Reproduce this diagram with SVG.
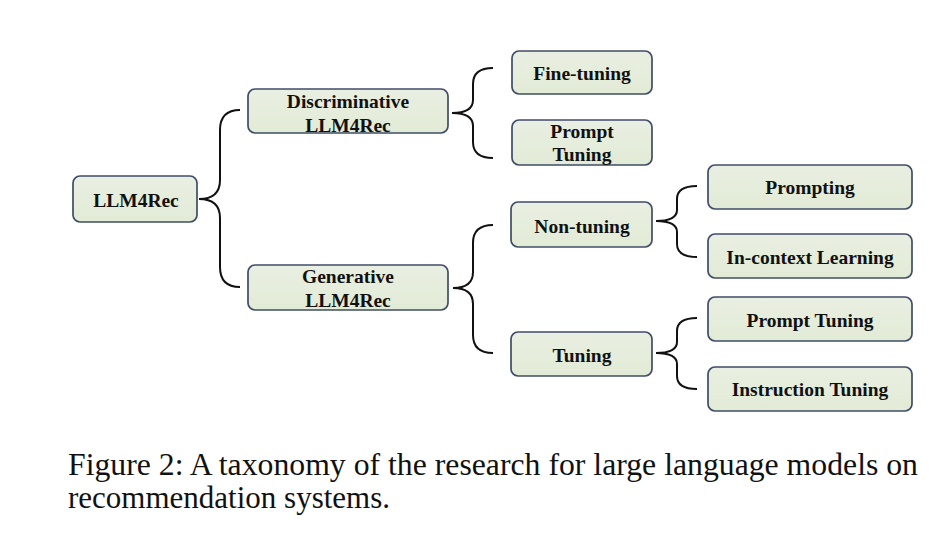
<svg xmlns="http://www.w3.org/2000/svg" width="934" height="543" viewBox="0 0 934 543">
<defs>
<linearGradient id="g" x1="0" y1="0" x2="0" y2="1">
<stop offset="0" stop-color="#e9efe2"/>
<stop offset="1" stop-color="#e2ebd6"/>
</linearGradient>
</defs>
<style>
.box{fill:url(#g);stroke:#404c68;stroke-width:1.7}
.t{font-family:"Liberation Serif","Times New Roman",serif;font-weight:bold;font-size:19.5px;fill:#111;text-anchor:middle}
.br{fill:none;stroke:#111;stroke-width:2}
.cap{font-family:"Liberation Serif","Times New Roman",serif;font-size:31px;fill:#111}
</style>
<rect width="934" height="543" fill="#fff"/>
<g id="connectors">
<path class="br" d="M240,110 Q220,110 220,130 L220,180 Q220,199 199,199 Q220,199 220,218 L220,267 Q220,287 240,287"/>
<path class="br" d="M493,68 Q473,68 473,84 L473,100 Q473,113 452,113 Q473,113 473,126 L473,142 Q473,158 493,158"/>
<path class="br" d="M493,225 Q473,225 473,243 L473,272 Q473,288 453,288 Q473,288 473,304 L473,335 Q473,353 493,353"/>
<path class="br" d="M697,186 Q677,186 677,199 L677,210 Q677,221 656,221 Q677,221 677,232 L677,244 Q677,257 697,257"/>
<path class="br" d="M697,318 Q677,318 677,331 L677,342 Q677,353 656,353 Q677,353 677,364 L677,376 Q677,389 697,389"/>
</g>
<g id="llm4rec"><rect class="box" x="73" y="176" width="124" height="46" rx="7"/><text class="t" x="136" y="207">LLM4Rec</text></g>
<g id="discriminative"><rect class="box" x="248" y="89" width="200" height="44" rx="7"/><text class="t" x="348" y="108">Discriminative</text><text class="t" x="348" y="132">LLM4Rec</text></g>
<g id="generative"><rect class="box" x="248" y="265" width="200" height="45" rx="7"/><text class="t" x="348" y="283">Generative</text><text class="t" x="348" y="307">LLM4Rec</text></g>
<g id="finetuning"><rect class="box" x="512" y="51" width="140" height="43" rx="7"/><text class="t" x="582" y="80">Fine-tuning</text></g>
<g id="prompttuning1"><rect class="box" x="512" y="120" width="140" height="45" rx="7"/><text class="t" x="582" y="138">Prompt</text><text class="t" x="582" y="161">Tuning</text></g>
<g id="nontuning"><rect class="box" x="511" y="202" width="141" height="45" rx="7"/><text class="t" x="582" y="233">Non-tuning</text></g>
<g id="tuning"><rect class="box" x="511" y="332" width="141" height="44" rx="7"/><text class="t" x="582" y="362">Tuning</text></g>
<g id="prompting"><rect class="box" x="708" y="165" width="204" height="44" rx="7"/><text class="t" x="810" y="194">Prompting</text></g>
<g id="incontext"><rect class="box" x="708" y="234" width="204" height="44" rx="7"/><text class="t" x="810" y="264">In-context Learning</text></g>
<g id="prompttuning2"><rect class="box" x="708" y="297" width="204" height="44" rx="7"/><text class="t" x="810" y="327">Prompt Tuning</text></g>
<g id="instructiontuning"><rect class="box" x="708" y="367" width="204" height="44" rx="7"/><text class="t" x="810" y="396">Instruction Tuning</text></g>
<text class="cap" x="68" y="475" textLength="850" lengthAdjust="spacingAndGlyphs">Figure 2: A taxonomy of the research for large language models on</text>
<text class="cap" x="68" y="508">recommendation systems.</text>
</svg>
